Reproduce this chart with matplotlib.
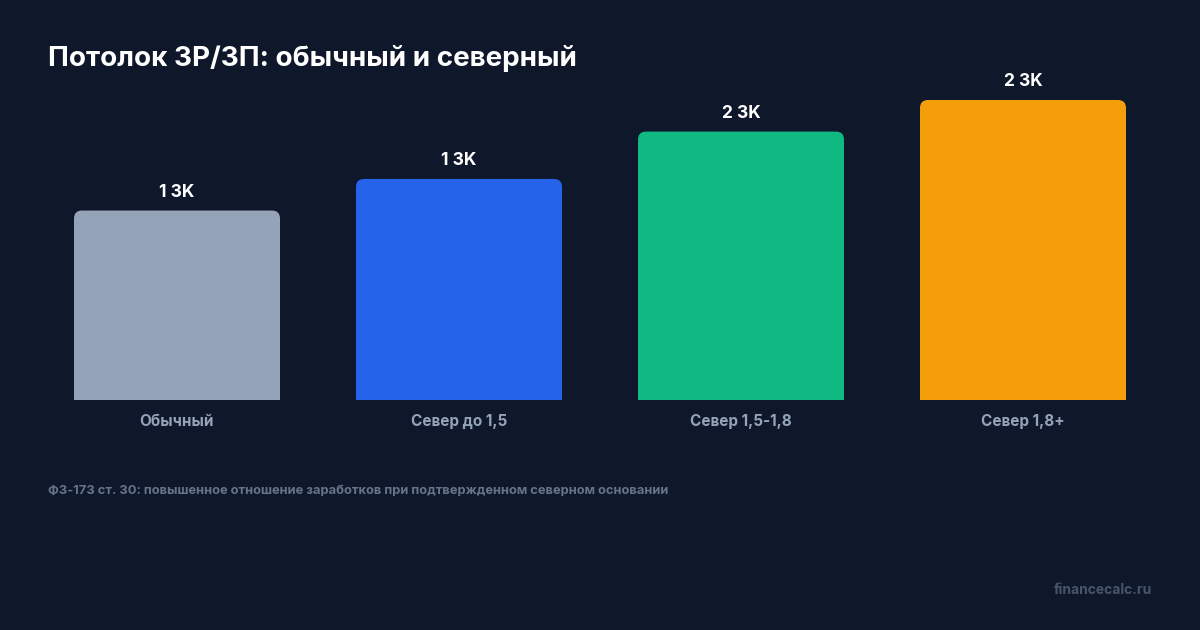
import matplotlib
matplotlib.use("Agg")
import matplotlib.pyplot as plt
from matplotlib.patches import FancyBboxPatch, Rectangle

categories = ["Обычный", "Север до 1,5", "Север 1,5-1,8", "Север 1,8+"]
values = [1.2, 1.4, 1.7, 1.9]
value_labels = ["1 3K", "1 3K", "2 3K", "2 3K"]
colors = ["#94a3b8", "#2563eb", "#10b981", "#f59e0b"]

title = "Потолок ЗР/ЗП: обычный и северный"
footnote = "ФЗ-173 ст. 30: повышенное отношение заработков при подтвержденном северном основании"
watermark = "financecalc.ru"

BG = "#0f172a"
plt.rcParams['font.family'] = ['Inter', 'DejaVu Sans']

W, H = 1200, 630
fig = plt.figure(figsize=(12, 6.3), dpi=100, facecolor=BG)
# axes in pixel coords: x 36..1164, y 100..400 (from top)
ax = fig.add_axes([36 / W, 1 - 400 / H, (1164 - 36) / W, 300 / H])
ax.set_facecolor(BG)
ax.set_xlim(-0.5, len(categories) - 0.5)
ax.set_ylim(0, max(values))
for s in ax.spines.values():
    s.set_visible(False)
ax.set_yticks([])
ax.set_xticks(range(len(categories)))
ax.set_xticklabels(categories, color="#94a3b8", fontsize=11, fontweight="bold")
ax.tick_params(axis="x", length=0, pad=10)

bw = 206 / 282
px_x = 282.0  # pixels per x unit
px_y = 300.0 / max(values)  # pixels per y unit
r_px = 8
r = r_px / px_x
aspect = px_x / px_y
for i, (v, c) in enumerate(zip(values, colors)):
    x0 = i - bw / 2
    p = FancyBboxPatch((x0, 0), bw, v, boxstyle=f"round,pad=0,rounding_size={r}",
                       mutation_aspect=aspect, facecolor=c, edgecolor="none")
    ax.add_patch(p)
    ax.add_patch(Rectangle((x0, 0), bw, v / 2, facecolor=c, edgecolor="none"))
    ax.text(i, v + 10 / px_y, value_labels[i], ha="center", va="bottom",
            color="white", fontsize=12.5, fontweight="bold", clip_on=False)

fig.text(48 / W, 1 - 58 / H, title, color="white", fontsize=20, fontweight="bold",
         ha="left", va="center")
fig.text(48 / W, 1 - 491 / H, footnote, color="#64748b", fontsize=9.3,
         fontweight="bold", ha="left", va="center")
fig.text(1152 / W, 1 - 590 / H, watermark, color="#475569", fontsize=10,
         fontweight="bold", ha="right", va="center")

fig.savefig("out.png", dpi=100, facecolor=BG)
